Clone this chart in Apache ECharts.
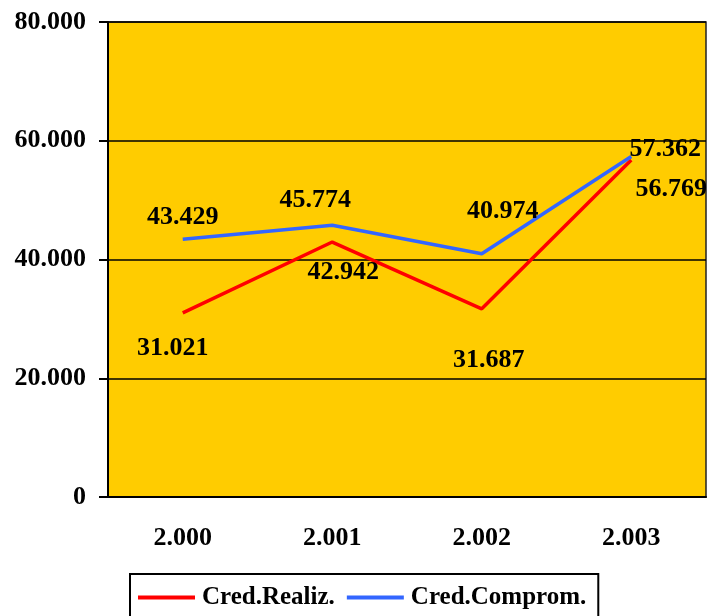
<!DOCTYPE html>
<html>
<head>
<meta charset="utf-8">
<script src="https://cdn.jsdelivr.net/npm/echarts@6/dist/echarts.min.js"></script>
<style>
  html, body { margin: 0; padding: 0; background: #fff; }
  #chart { width: 710px; height: 616px; }
</style>
</head>
<body>
<div id="chart"></div>
<script>
const years = ["2.000", "2.001", "2.002", "2.003"];
const credRealiz = [31021, 42942, 31687, 56769];
const credComprom = [43429, 45774, 40974, 57362];
const yTicks = [0, 20000, 40000, 60000, 80000];

// label offsets, picked to match the original layout
const realizOffsets = [[-10, 35], [11, 30], [7, 51], [40, 29]];
const compromOffsets = [[0, -22], [-17, -25], [21, -42], [34, -7]];

const FONT = "'Liberation Serif', 'Times New Roman', serif";

function fmt(v) {
  return String(v).replace(/\B(?=(\d{3})+(?!\d))/g, ".");
}

function withLabels(values, offsets) {
  return values.map((v, i) => ({
    value: v,
    label: { offset: offsets[i] },
  }));
}

const chart = echarts.init(document.getElementById("chart"));

const labelStyle = {
  show: true,
  position: "inside",
  fontFamily: FONT,
  fontWeight: "bold",
  fontSize: 26,
  color: "#000",
  formatter: (p) => fmt(p.value),
};

chart.setOption({
  animation: false,
  backgroundColor: "#fff",
  grid: {
    left: 108,
    right: 4,
    top: 22,
    bottom: 119,
    show: true,
    backgroundColor: "#FFCC00",
    borderColor: "#222",
    borderWidth: 1.5,
  },
  legend: {
    left: 130,
    top: 574,
    padding: [11, 12, 20, 8],
    itemGap: 12,
    itemWidth: 57,
    itemHeight: 4,
    icon: "rect",
    borderColor: "#000",
    borderWidth: 2,
    textStyle: {
      fontFamily: FONT,
      fontWeight: "bold",
      fontSize: 25,
      color: "#000",
      padding: [0, 0, 0, 2],
    },
    data: ["Cred.Realiz.", "Cred.Comprom."],
  },
  xAxis: {
    type: "category",
    data: years,
    axisLine: { lineStyle: { color: "#000", width: 2 } },
    axisTick: { length: 8, lineStyle: { color: "#000", width: 2 } },
    axisLabel: {
      margin: 28,
      fontFamily: FONT,
      fontWeight: "bold",
      fontSize: 26,
      color: "#000",
    },
  },
  yAxis: {
    type: "value",
    min: yTicks[0],
    max: yTicks[yTicks.length - 1],
    interval: yTicks[1] - yTicks[0],
    axisLine: { show: true, lineStyle: { color: "#000", width: 2 } },
    axisTick: { show: true, length: 9, lineStyle: { color: "#000", width: 2 } },
    splitLine: { lineStyle: { color: "#000", width: 1.5 } },
    axisLabel: {
      margin: 22,
      fontFamily: FONT,
      fontWeight: "bold",
      fontSize: 26,
      color: "#000",
      formatter: (v) => fmt(v),
    },
  },
  series: [
    {
      name: "Cred.Realiz.",
      type: "line",
      data: withLabels(credRealiz, realizOffsets),
      symbol: "circle",
      symbolSize: 0,
      color: "#FF0000",
      lineStyle: { color: "#FF0000", width: 3.5 },
      label: labelStyle,
    },
    {
      name: "Cred.Comprom.",
      type: "line",
      data: withLabels(credComprom, compromOffsets),
      symbol: "circle",
      symbolSize: 0,
      color: "#3366FF",
      lineStyle: { color: "#3366FF", width: 3.5 },
      label: labelStyle,
    },
  ],
});
</script>
</body>
</html>
